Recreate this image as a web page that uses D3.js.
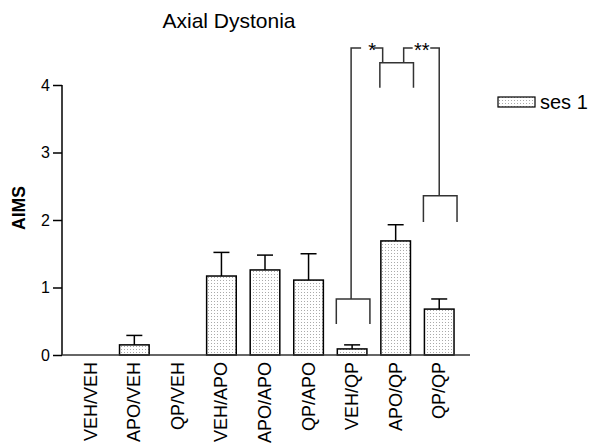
<html>
<head>
<script src="https://d3js.org/d3.v7.min.js"></script>
<style>
  body { margin: 0; background: #fff; }
  text { font-family: 'Liberation Sans', Arial, sans-serif; }
</style>
</head>
<body>
<svg id="chart" width="594" height="445"></svg>
<script>
var categories = ['VEH/VEH', 'APO/VEH', 'QP/VEH', 'VEH/APO', 'APO/APO', 'QP/APO', 'VEH/QP', 'APO/QP', 'QP/QP'];
var means = [0, 0.15, 0, 1.17, 1.26, 1.11, 0.09, 1.69, 0.68];
var errs = [0, 0.14, 0, 0.35, 0.22, 0.39, 0.06, 0.24, 0.15];
var yTicks = [0, 1, 2, 3, 4];

// significance brackets: group index, bracket level, leg bottom
var brackets = [
    { idx: 6, level: 0.83, leg: 0.46 },
    { idx: 7, level: 4.33, leg: 3.96 },
    { idx: 8, level: 2.36, leg: 1.97 }
];
var topLevel = 4.55;

var svg = d3.select('#chart');

var x = d3.scaleBand()
    .domain(categories)
    .range([69, 461])
    .paddingInner(0.32)
    .paddingOuter(0.16);

var y = d3.scaleLinear()
    .domain([0, 4])
    .range([355, 85]);

var defs = svg.append('defs');
var pat = defs.append('pattern')
    .attr('id', 'dots')
    .attr('patternUnits', 'userSpaceOnUse')
    .attr('width', 3)
    .attr('height', 3);
pat.append('rect').attr('width', 3).attr('height', 3).attr('fill', '#fff');
pat.append('rect').attr('x', 1).attr('y', 1).attr('width', 1).attr('height', 1).attr('fill', '#aaa');

// title
svg.append('text')
    .attr('x', 229)
    .attr('y', 28)
    .attr('text-anchor', 'middle')
    .style('font-size', '21px')
    .text('Axial Dystonia');

// y axis
var yAxis = svg.append('g')
    .attr('transform', 'translate(62,0)')
    .call(d3.axisLeft(y).tickValues(yTicks).tickSize(9).tickPadding(3).tickFormat(d3.format('d')));
yAxis.select('.domain').attr('stroke', '#000').attr('stroke-width', 1.5).attr('d', 'M0,' + y(4) + 'V' + y(0));
yAxis.selectAll('.tick line').attr('stroke-width', 1.5);
yAxis.selectAll('.tick text')
    .style('font-size', '16px')
    .style('font-family', "'Liberation Sans', Arial, sans-serif");

svg.append('text')
    .attr('transform', 'translate(25,208) rotate(-90)')
    .attr('text-anchor', 'middle')
    .style('font-size', '17.5px')
    .style('font-weight', 'bold')
    .text('AIMS');

// bars
var bw = x.bandwidth();
svg.selectAll('.bar')
    .data(categories.filter(function(c, i) { return means[i] > 0; }))
    .enter()
    .append('rect')
    .attr('class', 'bar')
    .attr('x', function(d) { return x(d); })
    .attr('y', function(d) { return y(means[categories.indexOf(d)]); })
    .attr('width', bw)
    .attr('height', function(d) { return y(0) - y(means[categories.indexOf(d)]); })
    .attr('fill', 'url(#dots)')
    .attr('stroke', '#000')
    .attr('stroke-width', 1.5);

// error bars
categories.forEach(function(c, i) {
    if (means[i] <= 0) return;
    var cx = x(c) + bw / 2;
    svg.append('line')
        .attr('x1', cx).attr('x2', cx)
        .attr('y1', y(means[i])).attr('y2', y(means[i] + errs[i]))
        .attr('stroke', '#000').attr('stroke-width', 1.5);
    svg.append('line')
        .attr('x1', cx - 8).attr('x2', cx + 8)
        .attr('y1', y(means[i] + errs[i])).attr('y2', y(means[i] + errs[i]))
        .attr('stroke', '#000').attr('stroke-width', 1.5);
});

// x axis line
svg.append('line')
    .attr('x1', 62).attr('x2', 470)
    .attr('y1', y(0)).attr('y2', y(0))
    .attr('stroke', '#333').attr('stroke-width', 1.5);

// category labels
svg.selectAll('.xlab')
    .data(categories)
    .enter()
    .append('text')
    .attr('class', 'xlab')
    .attr('transform', function(d) { return 'translate(' + (x(d) + bw / 2 + 6) + ',' + 362 + ') rotate(-90)'; })
    .attr('text-anchor', 'end')
    .style('font-size', '18px')
    .text(function(d) { return d; });

// brackets
var line = d3.line();
var bpath = function(d) {
    return line([[x(categories[d.idx]) - 1, y(d.leg)], [x(categories[d.idx]) - 1, y(d.level)],
                 [x(categories[d.idx]) + bw + 3, y(d.level)], [x(categories[d.idx]) + bw + 3, y(d.leg)]]);
};
svg.selectAll('.bracket')
    .data(brackets)
    .enter()
    .append('path')
    .attr('class', 'bracket')
    .attr('d', bpath)
    .attr('fill', 'none')
    .attr('stroke', '#333')
    .attr('stroke-width', 1.5);

var c6 = x(categories[6]) + bw / 2 - 1;
var c7 = x(categories[7]) + bw / 2;
var c8 = x(categories[8]) + bw / 2;
var connectors = [
    [[c6, y(brackets[0].level)], [c6, y(topLevel)], [c6 + 10, y(topLevel)]],
    [[c7 - 22, y(topLevel)], [c7 - 13, y(topLevel)], [c7 - 13, y(brackets[1].level)]],
    [[c7 + 8, y(brackets[1].level)], [c7 + 8, y(topLevel)], [c7 + 17, y(topLevel)]],
    [[c8 - 9, y(topLevel)], [c8, y(topLevel)], [c8, y(brackets[2].level)]]
];
svg.selectAll('.conn')
    .data(connectors)
    .enter()
    .append('path')
    .attr('class', 'conn')
    .attr('d', function(d) { return line(d); })
    .attr('fill', 'none')
    .attr('stroke', '#333')
    .attr('stroke-width', 1.5);

svg.append('text')
    .attr('x', c6 + 21).attr('y', y(topLevel) + 9)
    .attr('text-anchor', 'middle')
    .style('font-size', '20px')
    .text('*');
svg.append('text')
    .attr('x', c7 + 26).attr('y', y(topLevel) + 9)
    .attr('text-anchor', 'middle')
    .style('font-size', '20px')
    .text('**');

// legend
svg.append('rect')
    .attr('x', 498).attr('y', 97)
    .attr('width', 37).attr('height', 10)
    .attr('fill', 'url(#dots)')
    .attr('stroke', '#000')
    .attr('stroke-width', 1.2);
svg.append('text')
    .attr('x', 540).attr('y', 109)
    .style('font-size', '20px')
    .text('ses 1');
</script>
</body>
</html>
